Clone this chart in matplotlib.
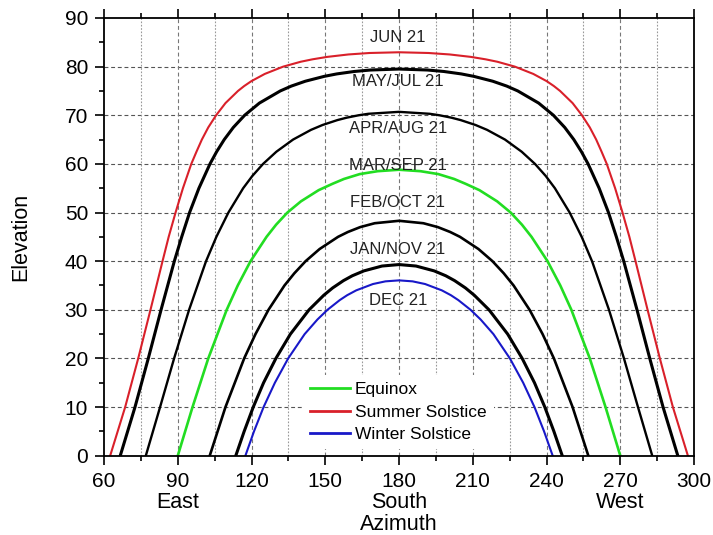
import matplotlib
matplotlib.use("Agg")
import matplotlib.pyplot as plt
import matplotlib.transforms as mtransforms

plt.rcParams["font.family"] = ["Liberation Sans", "DejaVu Sans"]

# Sun path curves: azimuth (deg) and elevation (deg) on the 21st of each month group
jun_az = [62.5, 68.6, 73.9, 78.9, 83.8, 86.3, 89.1, 92.1, 95.5, 97.6, 99.8, 102.4, 105.6,
          109.4, 114.5, 117.0, 119.9, 125.4, 132.9, 140.0, 144.8, 150.8, 159.4, 168.0,
          180.0,
          192.0, 200.6, 209.2, 215.2, 220.0, 227.1, 234.6, 240.1, 243.0, 245.5, 250.6,
          254.4, 257.6, 260.2, 262.4, 264.5, 267.9, 270.9, 273.7, 276.2, 281.1, 286.1,
          291.4, 297.5]
jun_el = [0, 10, 20, 30, 40, 45, 50, 55, 60, 62.5, 65, 67.5, 70,
          72.5, 75, 76, 77, 78.5, 80, 81, 81.5, 82, 82.5, 82.8,
          82.95,
          82.8, 82.5, 82, 81.5, 81, 80, 78.5, 77, 76, 75, 72.5,
          70, 67.5, 65, 62.5, 60, 55, 50, 45, 40, 30, 20,
          10, 0]

may_jul_az = [66.6, 72.6, 78.0, 83.2, 88.6, 91.6, 94.8, 98.6, 103.1, 105.8, 108.9, 112.6,
              117.2, 123.2, 131.7, 136.2, 141.9, 149.6, 154.7, 161.8, 168.4,
              180.0,
              191.6, 198.2, 205.3, 210.4, 218.1, 223.8, 228.3, 236.8, 242.8, 247.4,
              251.1, 254.2, 256.9, 261.4, 265.2, 268.4, 271.4, 276.8, 282.0, 287.4, 293.4]
may_jul_el = [0, 10, 20, 30, 40, 45, 50, 55, 60, 62.5, 65, 67.5,
              70, 72.5, 75, 76, 77, 78, 78.5, 79, 79.3,
              79.5,
              79.3, 79, 78.5, 78, 77, 76, 75, 72.5, 70, 67.5,
              65, 62.5, 60, 55, 50, 45, 40, 30, 20, 10, 0]

apr_aug_az = [77.0, 82.8, 88.5, 94.6, 101.5, 105.7, 110.6, 116.6, 120.3, 124.7, 130.1,
              136.9, 144.2, 148.9, 154.9, 158.7, 163.6, 167.5,
              180.0,
              192.5, 196.4, 201.3, 205.1, 211.1, 215.8, 223.1, 229.9, 235.3, 239.7,
              243.4, 249.4, 254.3, 258.5, 265.4, 271.5, 277.2, 283.0]
apr_aug_el = [0, 10, 20, 30, 40, 45, 50, 55, 57.5, 60, 62.5,
              65, 67, 68, 69, 69.5, 70, 70.3,
              70.7,
              70.3, 70, 69.5, 69, 68, 67, 65, 62.5, 60, 57.5,
              55, 50, 45, 40, 30, 20, 10, 0]

mar_sep_az = [90.0, 96.0, 102.4, 109.9, 114.4, 119.6, 126.1, 130.0, 134.6, 140.1, 147.3,
              152.9, 157.6, 164.0, 171.3,
              180.0,
              188.7, 196.0, 202.4, 207.1, 212.7, 219.9, 225.4, 230.0, 233.9, 240.4,
              245.6, 250.1, 257.6, 264.0, 270.0]
mar_sep_el = [0, 10, 20, 30, 35, 40, 45, 47.5, 50, 52.3, 54.6,
              55.9, 56.9, 57.9, 58.5,
              58.8,
              58.5, 57.9, 56.9, 55.9, 54.6, 52.3, 50, 47.5, 45, 40,
              35, 30, 20, 10, 0]

feb_oct_az = [103.0, 109.4, 117.0, 121.6, 126.9, 133.4, 137.4, 142.0, 147.7, 155.2, 159.2,
              164.2, 170.1,
              180.0,
              189.9, 195.8, 200.8, 204.8, 212.3, 218.0, 222.6, 226.6, 233.1, 238.4,
              243.0, 250.6, 257.0]
feb_oct_el = [0, 10, 20, 25, 30, 35, 37.5, 40, 42.5, 45, 46,
              47, 47.8,
              48.3,
              47.8, 47, 46, 45, 42.5, 40, 37.5, 35, 30, 25,
              20, 10, 0]

jan_nov_az = [113.6, 117.0, 120.7, 124.9, 129.9, 135.8, 143.4, 149.4, 153.0, 157.4, 161.0,
              165.7, 173.1,
              180.0,
              186.9, 194.3, 199.0, 202.6, 207.0, 210.6, 216.6, 224.2, 230.1, 235.1,
              239.3, 243.0, 246.4]
jan_nov_el = [0, 5, 10, 15, 20, 25, 30, 33, 34.5, 36, 37,
              38, 39,
              39.3,
              39, 38, 37, 36, 34.5, 33, 30, 25, 20, 15,
              10, 5, 0]

dec_az = [117.5, 121.0, 124.9, 129.5, 134.9, 141.6, 146.8, 150.9, 155.9, 158.9, 162.6,
          169.4, 174.5,
          180.0,
          185.5, 190.6, 197.4, 201.1, 204.1, 209.1, 213.2, 218.4, 225.1, 230.5, 235.1,
          239.0, 242.5]
dec_el = [0, 5, 10, 15, 20, 25, 28, 30, 32, 33, 34,
          35.3, 35.85,
          36.05,
          35.85, 35.3, 34, 33, 32, 30, 28, 25, 20, 15, 10,
          5, 0]

month_labels = ["JUN 21", "MAY/JUL 21", "APR/AUG 21", "MAR/SEP 21",
                "FEB/OCT 21", "JAN/NOV 21", "DEC 21"]
label_el = [86.0, 76.9, 67.3, 59.6, 52.0, 42.4, 31.9]

xticks = [60, 90, 120, 150, 180, 210, 240, 270, 300]
yticks = [0, 10, 20, 30, 40, 50, 60, 70, 80, 90]
directions = [(90, "East"), (180, "South"), (270, "West")]

GREEN = "#22dd22"
RED = "#d9202a"
BLUE = "#1818c8"

fig = plt.figure(figsize=(7.13, 5.35), dpi=100)
ax = fig.add_axes([0.1459, 0.1482, 0.8275, 0.8182])

ax.set_xlim(60, 300)
ax.set_ylim(0, 90)

# grid
for y in range(10, 90, 10):
    ax.axhline(y, color="#555555", lw=0.8, ls=(0, (3.5, 2.5)), zorder=1)
for x in range(75, 300, 15):
    if x % 30 == 0:
        ax.axvline(x, color="#777777", lw=0.8, ls=(0, (3.5, 2.5)), zorder=1)
    else:
        ax.axvline(x, color="#999999", lw=0.8, ls=(0, (1.5, 1.5)), zorder=1)

# curves
ax.plot(jun_az, jun_el, color=RED, lw=1.5, zorder=3, label="Summer Solstice")
ax.plot(may_jul_az, may_jul_el, color="black", lw=2.2, zorder=3)
ax.plot(apr_aug_az, apr_aug_el, color="black", lw=1.7, zorder=3)
ax.plot(mar_sep_az, mar_sep_el, color=GREEN, lw=1.9, zorder=3, label="Equinox")
ax.plot(feb_oct_az, feb_oct_el, color="black", lw=1.9, zorder=3)
ax.plot(jan_nov_az, jan_nov_el, color="black", lw=2.2, zorder=3)
ax.plot(dec_az, dec_el, color=BLUE, lw=1.5, zorder=3, label="Winter Solstice")

for txt, y in zip(month_labels, label_el):
    ax.text(179.5, y, txt, ha="center", va="center", fontsize=12, color="#222222", zorder=4)

# legend in order Equinox / Summer / Winter
handles, labels = ax.get_legend_handles_labels()
order = [labels.index(n) for n in ["Equinox", "Summer Solstice", "Winter Solstice"]]
leg = ax.legend([handles[i] for i in order], [labels[i] for i in order],
                loc="lower left", bbox_to_anchor=(0.337, 0.015), fontsize=12.5,
                frameon=True, fancybox=False, edgecolor="none", facecolor="white",
                framealpha=1.0, handlelength=2.3, handletextpad=0.3, labelspacing=0.42,
                borderpad=0.4, borderaxespad=0.0)
leg.set_zorder(5)
for line in leg.get_lines():
    line.set_linewidth(2.0)

# axes styling
for s in ax.spines.values():
    s.set_linewidth(1.3)
    s.set_zorder(6)

ax.set_xticks(xticks)
ax.set_xticks(range(75, 300, 30), minor=True)
ax.set_yticks(yticks)
ax.set_yticks(range(5, 90, 10), minor=True)
ax.tick_params(axis="both", which="major", direction="out", length=6.5, width=1.2,
               labelsize=15, colors="black")
ax.tick_params(axis="both", which="minor", direction="out", length=3.5, width=1.2)
ax.tick_params(axis="x", which="both", top=True, bottom=True, pad=5)
ax.tick_params(axis="y", which="both", right=False, pad=5)
ax.tick_params(axis="x", labeltop=False)

trans = mtransforms.blended_transform_factory(ax.transData, ax.transAxes)
for x, name in directions:
    ax.text(x, -0.108, name, transform=trans, ha="center", va="center", fontsize=15.5)
ax.text(180, -0.157, "Azimuth", transform=trans, ha="center", va="center", fontsize=15.5)
ax.set_ylabel("Elevation", fontsize=15.5, labelpad=24)

fig.savefig("out.png", dpi=100, facecolor="white")
